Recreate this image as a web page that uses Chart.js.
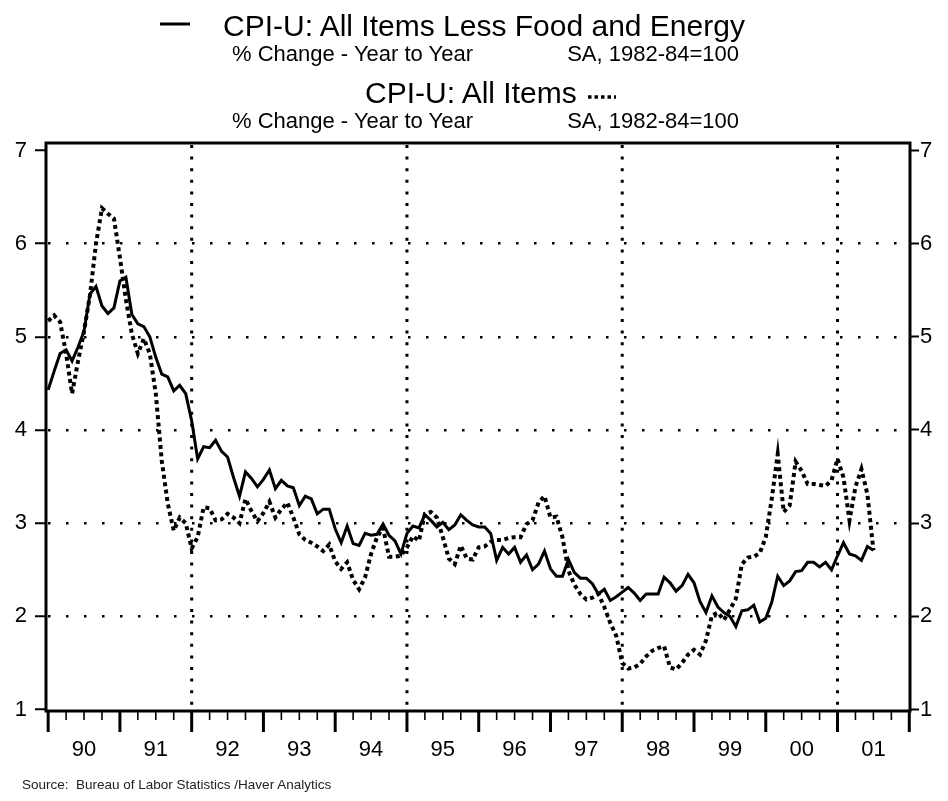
<!DOCTYPE html>
<html>
<head>
<meta charset="utf-8">
<script src="https://cdn.jsdelivr.net/npm/chart.js@4.4.0/dist/chart.umd.min.js"></script>
<style>
  body { margin: 0; background: #fff; font-family: "Liberation Sans", Arial, sans-serif; }
  #wrap { position: relative; width: 948px; height: 801px; overflow: hidden; }
  canvas { position: absolute; left: 0; top: 0; }
  .t { position: absolute; white-space: pre; color: #000; line-height: 1; }
  .big { font-size: 30px; }
  .sub { font-size: 22px; }
</style>
</head>
<body>
<div id="wrap">
  <canvas id="chart" width="948" height="801"></canvas>
  <div class="t big" style="left:223px;top:11px">CPI-U: All Items Less Food and Energy</div>
  <div class="t sub" style="left:232px;top:43px">% Change - Year to Year</div>
  <div class="t sub" style="right:209px;top:43px">SA, 1982-84=100</div>
  <div class="t big" style="left:365px;top:78px">CPI-U: All Items</div>
  <div class="t sub" style="left:232px;top:110px">% Change - Year to Year</div>
  <div class="t sub" style="right:209px;top:110px">SA, 1982-84=100</div>
  <div class="t" style="left:22px;top:778px;font-size:13.5px;color:#222">Source:  Bureau of Labor Statistics /Haver Analytics</div>
</div>
<script>
// monthly, Jan 1990 .. Jul 2001, % change year to year
const startYear = 1990
const yearLabels = ['90', '91', '92', '93', '94', '95', '96', '97', '98', '99', '00', '01']
const yTicks = [1, 2, 3, 4, 5, 6, 7]
const gridYears = [1992, 1995, 1998, 2001]

// CPI-U: All Items Less Food and Energy (solid)
const coreCPI = [
  4.43, 4.63, 4.82, 4.86, 4.74, 4.89, 5.06, 5.46, 5.54, 5.33, 5.25, 5.31,
  5.60, 5.64, 5.24, 5.14, 5.11, 5.00, 4.78, 4.60, 4.57, 4.42, 4.48, 4.39,
  4.10, 3.69, 3.82, 3.81, 3.89, 3.77, 3.71, 3.49, 3.29, 3.55, 3.48, 3.39,
  3.47, 3.57, 3.37, 3.46, 3.40, 3.38, 3.19, 3.29, 3.26, 3.10, 3.15, 3.15,
  2.94, 2.79, 2.97, 2.78, 2.76, 2.89, 2.87, 2.88, 2.99, 2.87, 2.81, 2.67,
  2.89, 2.97, 2.95, 3.09, 3.03, 2.96, 3.01, 2.93, 2.98, 3.09, 3.03, 2.98,
  2.96, 2.96, 2.89, 2.60, 2.74, 2.67, 2.74, 2.58, 2.66, 2.50, 2.56, 2.70,
  2.51, 2.43, 2.43, 2.61, 2.47, 2.41, 2.41, 2.35, 2.24, 2.29, 2.17, 2.21,
  2.26, 2.31, 2.25, 2.17, 2.24, 2.24, 2.24, 2.42, 2.36, 2.27, 2.33, 2.45,
  2.36, 2.16, 2.04, 2.22, 2.10, 2.04, 2.00, 1.89, 2.06, 2.07, 2.12, 1.94,
  1.98, 2.15, 2.43, 2.33, 2.38, 2.48, 2.49, 2.58, 2.58, 2.53, 2.58, 2.50,
  2.65, 2.79, 2.67, 2.65, 2.60, 2.75, 2.71
]

// CPI-U: All Items (dotted)
const allItemsCPI = [
  5.17, 5.23, 5.16, 4.82, 4.39, 4.74, 5.06, 5.45, 6.00, 6.38, 6.32, 6.27,
  5.85, 5.40, 5.03, 4.82, 4.98, 4.82, 4.39, 3.67, 3.21, 2.92, 3.06, 3.00,
  2.73, 2.85, 3.17, 3.16, 3.03, 3.04, 3.10, 3.06, 3.00, 3.26, 3.13, 3.02,
  3.11, 3.23, 3.06, 3.15, 3.22, 3.06, 2.88, 2.82, 2.79, 2.75, 2.70, 2.77,
  2.59, 2.51, 2.58, 2.39, 2.29, 2.42, 2.67, 2.85, 2.95, 2.64, 2.64, 2.65,
  2.74, 2.86, 2.81, 3.10, 3.12, 3.06, 2.85, 2.62, 2.56, 2.76, 2.62, 2.61,
  2.74, 2.75, 2.80, 2.82, 2.82, 2.84, 2.85, 2.85, 2.99, 3.03, 3.22, 3.29,
  3.06, 3.07, 2.85, 2.49, 2.34, 2.24, 2.18, 2.20, 2.24, 2.10, 1.93, 1.79,
  1.50, 1.44, 1.45, 1.49, 1.57, 1.63, 1.66, 1.68, 1.45, 1.43, 1.50, 1.59,
  1.64, 1.59, 1.74, 2.01, 2.04, 1.96, 2.07, 2.19, 2.56, 2.63, 2.64, 2.68,
  2.85, 3.26, 3.74, 3.12, 3.19, 3.66, 3.56, 3.42, 3.42, 3.41, 3.40, 3.46,
  3.69, 3.49, 3.03, 3.39, 3.58, 3.31, 2.71
]

const toPoints = arr => arr.map((v, i) => ({ x: startYear + i / 12, y: v }))
const tickFont = { family: '"Liberation Sans", Arial, sans-serif', size: 22 }

// frame, x tick marks, vertical dotted grid and legend keys
const framePlugin = {
  id: 'frame',
  beforeDatasetsDraw(chart) {
    const { ctx, chartArea: a, scales: { x } } = chart
    ctx.save()
    ctx.strokeStyle = '#000'
    ctx.lineWidth = 3
    ctx.setLineDash([3, 8.6])
    gridYears.forEach(yr => {
      const px = x.getPixelForValue(yr)
      ctx.beginPath()
      ctx.moveTo(px, a.top + 2)
      ctx.lineTo(px, a.bottom)
      ctx.stroke()
    })
    ctx.restore()
  },
  afterDraw(chart) {
    const { ctx, chartArea: a, scales: { x } } = chart
    ctx.save()
    ctx.strokeStyle = '#000'
    ctx.lineWidth = 3
    ctx.strokeRect(a.left, a.top, a.right - a.left, a.bottom - a.top)
    const nYears = yearLabels.length
    for (let q = 0; q <= nYears * 4; q++) {
      const px = x.getPixelForValue(startYear + q / 4)
      const major = q % 4 === 0
      ctx.lineWidth = major ? 3 : 1.6
      ctx.beginPath()
      ctx.moveTo(px, a.bottom)
      ctx.lineTo(px, a.bottom + (major ? 21 : 9))
      ctx.stroke()
    }
    // legend keys
    ctx.lineWidth = 3
    ctx.beginPath(); ctx.moveTo(160, 24); ctx.lineTo(190, 24); ctx.stroke()
    ctx.lineWidth = 3.5
    ctx.setLineDash([3.5, 3])
    ctx.beginPath(); ctx.moveTo(588, 97); ctx.lineTo(616, 97); ctx.stroke()
    ctx.restore()
  }
}

new Chart(document.getElementById('chart'), {
  type: 'line',
  data: {
    datasets: [
      { label: 'CPI-U: All Items Less Food and Energy', data: toPoints(coreCPI), borderColor: '#000', borderWidth: 3, pointRadius: 0, tension: 0 },
      { label: 'CPI-U: All Items', data: toPoints(allItemsCPI), borderColor: '#000', borderWidth: 4, borderDash: [4, 3.5], pointRadius: 0, tension: 0 }
    ]
  },
  options: {
    responsive: false,
    animation: false,
    devicePixelRatio: 1,
    layout: { padding: { top: 143, left: 0, right: 0, bottom: 0 } },
    plugins: { legend: { display: false }, tooltip: { enabled: false }, title: { display: false } },
    scales: {
      x: {
        type: 'linear', min: 1989.97, max: 2002.01,
        afterBuildTicks: s => { s.ticks = yearLabels.map((l, k) => ({ value: startYear + k + 0.5 })) },
        afterFit: s => { s.height = 90 },
        ticks: { callback: (v, i) => yearLabels[i], color: '#000', font: tickFont, maxRotation: 0, autoSkip: false, padding: 26 },
        grid: { display: false, drawTicks: false },
        border: { display: false }
      },
      y: {
        position: 'left', min: 0.984, max: 7.08,
        afterBuildTicks: s => { s.ticks = yTicks.map(v => ({ value: v })) },
        afterFit: s => { s.width = 46 },
        ticks: { color: '#000', font: tickFont, padding: 8 },
        grid: {
          color: c => (c.tick && c.tick.value > 1 && c.tick.value < 7) ? '#000' : 'rgba(0,0,0,0)',
          lineWidth: 2.5, tickColor: '#000', tickLength: 11, tickWidth: 2
        },
        border: { display: false, dash: [2.5, 15.5], dashOffset: -2 }
      },
      y2: {
        position: 'right', min: 0.984, max: 7.08,
        afterBuildTicks: s => { s.ticks = yTicks.map(v => ({ value: v })) },
        afterFit: s => { s.width = 38 },
        ticks: { color: '#000', font: tickFont, padding: 1 },
        grid: { drawOnChartArea: false, tickColor: '#000', tickLength: 9, tickWidth: 2 },
        border: { display: false }
      }
    }
  },
  plugins: [framePlugin]
})
</script>
</body>
</html>
